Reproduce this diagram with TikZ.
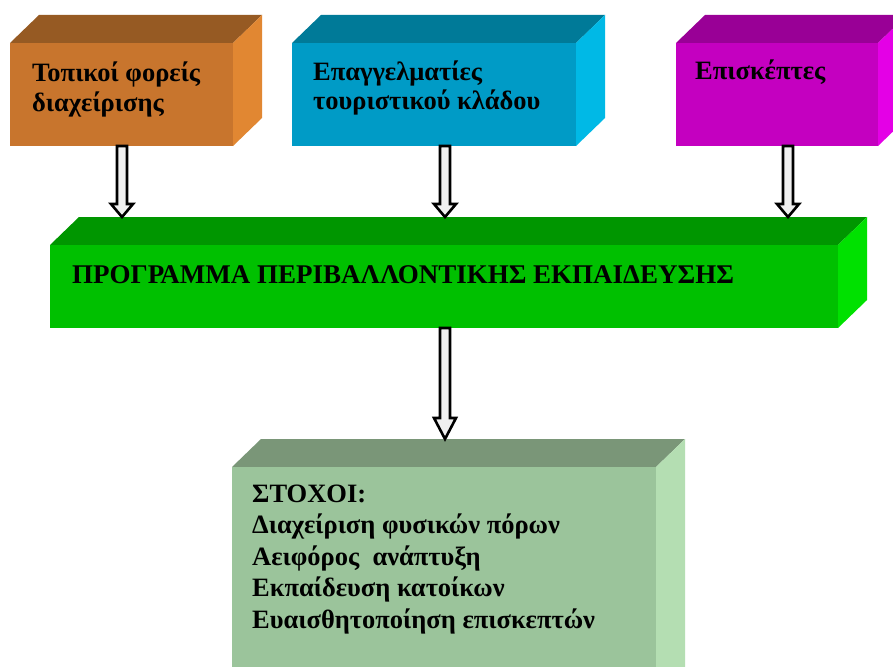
\documentclass[tikz,border=0pt]{standalone}
\usepackage{fontspec}
\setmainfont{Liberation Serif}
\usetikzlibrary{calc}
\definecolor{orF}{HTML}{C8752D}\definecolor{orT}{HTML}{965A23}\definecolor{orS}{HTML}{E18732}
\definecolor{blF}{HTML}{009BC6}\definecolor{blT}{HTML}{007A98}\definecolor{blS}{HTML}{00B9E6}
\definecolor{mgF}{HTML}{C400C0}\definecolor{mgT}{HTML}{990096}\definecolor{mgS}{HTML}{E400E6}
\definecolor{grF}{HTML}{00C000}\definecolor{grT}{HTML}{009600}\definecolor{grS}{HTML}{00E100}
\definecolor{sgF}{HTML}{9BC49B}\definecolor{sgT}{HTML}{7A9678}\definecolor{sgS}{HTML}{B4DEB2}
\tikzset{
  lbl/.style={anchor=base west, inner sep=0pt, text=black, font=\bfseries\fontsize{26.5}{29}\selectfont},
  blockarr/.style={draw=black, line width=2.6pt, fill=gray!12, line join=miter},
}
% name, x1, y1, x2, y2, front, top, side
\newcommand\cuboid[8]{%
  \fill[#7] (#2,#3) -- (#2+29,#3-28) -- (#4+29,#3-28) -- (#4,#3) -- cycle;
  \fill[#8] (#4,#3) -- (#4+29,#3-28) -- (#4+29,#5-28) -- (#4,#5) -- cycle;
  \node (#1) [fill=#6, inner sep=0pt, outer sep=0pt, anchor=north west,
    minimum width={#4-#2}, minimum height={#5-#3}] at (#2,#3) {};
}
% from, to, head length
\newcommand\blockarrow[3]{%
  \draw[blockarr] let \p1=(#1), \p2=(#2) in
    (\x1-5pt,\y1) -- (\x2-5pt,\y2+#3) -- (\x2-11pt,\y2+#3) -- (\x2,\y2)
    -- (\x2+11pt,\y2+#3) -- (\x2+5pt,\y2+#3) -- (\x1+5pt,\y1) -- cycle;
}
\begin{document}
\begin{tikzpicture}[x=1pt,y=-1pt]
\useasboundingbox (0,0) rectangle (893,666);
\fill[white] (0,0) rectangle (893,666);
\clip (0,0) rectangle (893,666);

\cuboid{local}{10}{43}{233}{146}{orF}{orT}{orS}
\cuboid{prof}{292}{43}{576}{146}{blF}{blT}{blS}
\cuboid{visit}{676}{43}{878}{146}{mgF}{mgT}{mgS}
\cuboid{prog}{50}{245}{838}{328}{grF}{grT}{grS}
\cuboid{goals}{232}{467}{656}{700}{sgF}{sgT}{sgS}

\node[lbl] (t1) at (32,82) {\vtop{\baselineskip=29pt\hbox{Τοπικοί φορείς}\hbox{διαχείρισης}}};
\node[lbl] (t2) at (313,81) {\vtop{\baselineskip=29pt\hbox{Επαγγελματίες}\hbox{τουριστικού κλάδου}}};
\node[lbl] (t3) at (695,80) {Επισκέπτες};
\node[lbl, font=\bfseries\fontsize{27}{29}\selectfont] (t4) at (72,283) {ΠΡΟΓΡΑΜΜΑ ΠΕΡΙΒΑΛΛΟΝΤΙΚΗΣ ΕΚΠΑΙΔΕΥΣΗΣ};
\node[lbl] (t5) at (252,502) {\vtop{\baselineskip=31.5pt
  \hbox{ΣΤΟΧΟΙ:}
  \hbox{Διαχείριση φυσικών πόρων}
  \hbox{Αειφόρος~~ανάπτυξη}
  \hbox{Εκπαίδευση κατοίκων}
  \hbox{Ευαισθητοποίηση επισκεπτών}}};

\coordinate (e1) at (122,217);
\coordinate (e2) at (445,217);
\coordinate (e3) at (788,217);
\coordinate (e4) at (445,439);
\coordinate (s1) at (local.south -| e1);
\coordinate (s2) at (prof.south -| e2);
\coordinate (s3) at (visit.south -| e3);
\coordinate (s4) at (prog.south -| e4);
\blockarrow{s1}{e1}{13pt}
\blockarrow{s2}{e2}{13pt}
\blockarrow{s3}{e3}{13pt}
\blockarrow{s4}{e4}{21pt}
\end{tikzpicture}
\end{document}
